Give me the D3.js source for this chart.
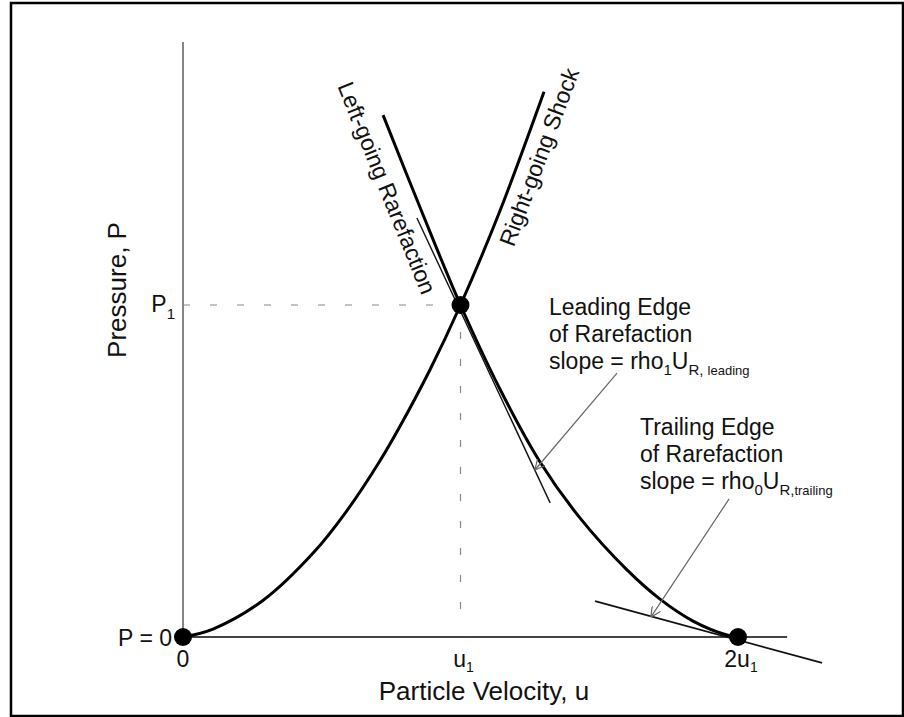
<!DOCTYPE html>
<html>
<head>
<meta charset="utf-8">
<script src="https://cdn.jsdelivr.net/npm/d3@7"></script>
<style>
  body { margin: 0; background: #fff; }
  text { font-family: "Liberation Sans", Arial, Helvetica, sans-serif; fill: #111; }
</style>
</head>
<body>
<div class="chart"></div>
<script>
// values (u in units of u1, P in units of P1)
var shockU = [0, 0.108, 0.288, 0.468, 0.591, 0.710, 0.775, 0.890, 1.0, 1.142, 1.301];
var shockP = [0, 0.024, 0.110, 0.252, 0.381, 0.531, 0.624, 0.805, 1.0, 1.283, 1.642];

var rareU = [0.721, 0.858, 1.0, 1.142, 1.286, 1.431, 1.600, 1.719, 1.838, 1.960, 2.0];
var rareP = [1.572, 1.286, 1.0, 0.747, 0.528, 0.358, 0.202, 0.114, 0.048, 0.006, 0];

var leadTanU = [0.843, 1.323];
var leadTanP = [1.262, 0.404];
var trailTanU = [1.485, 2.303];
var trailTanP = [0.108, -0.078];

var stateU = [0, 1, 2];
var stateP = [0, 1, 0];

var xTickU = [0, 1, 2];
var xTickMain = ["0", "u", "2u"];
var xTickSub = ["", "1", "1"];

var yTickP = [0, 1];
var yTickMain = ["P = 0", "P"];
var yTickSub = ["", "1"];

var svgWidth = 904;
var svgHeight = 717;

var x = d3.scaleLinear().domain([0, 2]).range([183, 738]);
var y = d3.scaleLinear().domain([0, 1]).range([637, 305]);

var svg = d3.select(".chart")
  .append("svg")
  .attr("width", svgWidth)
  .attr("height", svgHeight);

// frame
svg.append("rect")
  .attr("x", 11).attr("y", 3)
  .attr("width", 892).attr("height", 713)
  .attr("fill", "none")
  .attr("stroke", "#000")
  .attr("stroke-width", 2.5);

svg.append("defs").append("marker")
  .attr("id", "arr")
  .attr("viewBox", "0 0 10 10")
  .attr("refX", 10).attr("refY", 5)
  .attr("markerWidth", 10).attr("markerHeight", 10)
  .attr("markerUnits", "userSpaceOnUse")
  .attr("orient", "auto")
  .append("path")
  .attr("d", "M0,0 L10,5 L0,10")
  .attr("fill", "none")
  .attr("stroke", "#666")
  .attr("stroke-width", 1.2);

// axes
svg.append("line")
  .attr("x1", x(0)).attr("x2", x(0))
  .attr("y1", y(0)).attr("y2", y(1.792))
  .attr("stroke", "#666").attr("stroke-width", 1.6);

svg.append("line")
  .attr("x1", x(0)).attr("x2", x(2.177))
  .attr("y1", y(0)).attr("y2", y(0))
  .attr("stroke", "#444").attr("stroke-width", 1.8);

// dashed guides to P1 / u1
svg.append("line")
  .attr("x1", x(0)).attr("x2", x(1))
  .attr("y1", y(1)).attr("y2", y(1))
  .attr("stroke", "#888").attr("stroke-width", 1.2)
  .attr("stroke-dasharray", "7,20");

svg.append("line")
  .attr("x1", x(1)).attr("x2", x(1))
  .attr("y1", y(1)).attr("y2", y(0.045))
  .attr("stroke", "#888").attr("stroke-width", 1.2)
  .attr("stroke-dasharray", "7,20");

var line = d3.line()
  .x(function(d) { return x(d[0]); })
  .y(function(d) { return y(d[1]); });

var curve = d3.line()
  .x(function(d) { return x(d[0]); })
  .y(function(d) { return y(d[1]); })
  .curve(d3.curveCatmullRom.alpha(0.5));

// tangent lines (thin)
svg.append("path")
  .attr("d", line(d3.zip(leadTanU, leadTanP)))
  .attr("fill", "none").attr("stroke", "#111").attr("stroke-width", 1.4);

svg.append("path")
  .attr("d", line(d3.zip(trailTanU, trailTanP)))
  .attr("fill", "none").attr("stroke", "#111").attr("stroke-width", 1.6);

// Hugoniot curves (bold)
svg.append("path")
  .attr("d", curve(d3.zip(shockU, shockP)))
  .attr("fill", "none").attr("stroke", "#000").attr("stroke-width", 3);

svg.append("path")
  .attr("d", curve(d3.zip(rareU, rareP)))
  .attr("fill", "none").attr("stroke", "#000").attr("stroke-width", 3);

// state points
svg.selectAll("circle.state")
  .data(d3.zip(stateU, stateP))
  .enter().append("circle")
  .attr("class", "state")
  .attr("cx", function(d) { return x(d[0]); })
  .attr("cy", function(d) { return y(d[1]); })
  .attr("r", 9)
  .attr("fill", "#000");

// tick labels
xTickU.forEach(function(u, i) {
  var t = svg.append("text")
    .attr("x", x(u) + (i === 0 ? 0 : 3))
    .attr("y", 667)
    .attr("text-anchor", "middle")
    .style("font-size", "23px");
  t.append("tspan").text(xTickMain[i]);
  if (xTickSub[i]) {
    t.append("tspan").attr("dy", 5).style("font-size", "14px").text(xTickSub[i]);
  }
});

yTickP.forEach(function(p, i) {
  var t = svg.append("text")
    .attr("x", i === 0 ? 172 : 175)
    .attr("y", y(p) + (i === 0 ? 9 : 7))
    .attr("text-anchor", "end")
    .style("font-size", "23px");
  t.append("tspan").text(yTickMain[i]);
  if (yTickSub[i]) {
    t.append("tspan").attr("dy", 7).style("font-size", "15px").text(yTickSub[i]);
  }
});

// axis titles
svg.append("text")
  .attr("x", 484).attr("y", 700)
  .attr("text-anchor", "middle")
  .style("font-size", "26px")
  .text("Particle Velocity, u");

svg.append("text")
  .attr("transform", "translate(126,290) rotate(-90)")
  .attr("text-anchor", "middle")
  .style("font-size", "26px")
  .text("Pressure, P");

// curve labels
svg.append("text")
  .attr("transform", "translate(387,188) rotate(68)")
  .attr("text-anchor", "middle")
  .attr("dy", "0.35em")
  .style("font-size", "23px")
  .text("Left-going Rarefaction");

svg.append("text")
  .attr("transform", "translate(539,157) rotate(-69.5)")
  .attr("text-anchor", "middle")
  .attr("dy", "0.35em")
  .style("font-size", "23px")
  .text("Right-going Shock");

// annotations
var leadNote = ["Leading Edge", "of Rarefaction"];
var trailNote = ["Trailing Edge", "of Rarefaction"];

function note(x0, y0, lines, sub1, sub2, sub2sep) {
  var g = svg.append("g").style("font-size", "23px");
  lines.forEach(function(s, i) {
    g.append("text").attr("x", x0).attr("y", y0 + i * 27).text(s);
  });
  var t = g.append("text").attr("x", x0).attr("y", y0 + 54);
  t.append("tspan").text("slope = rho");
  t.append("tspan").attr("dy", 6).style("font-size", "15px").text(sub1);
  t.append("tspan").attr("dy", -6).text("U");
  t.append("tspan").attr("dy", 6).style("font-size", "15px").text("R" + sub2sep);
  t.append("tspan").style("font-size", "13px").text(sub2);
}
note(549, 315, leadNote, "1", "leading", ", ");
note(640, 435, trailNote, "0", "trailing", ",");

// pointer arrows
var leadArrowU = [1.564, 1.268];
var leadArrowP = [0.795, 0.503];
var trailArrowU = [1.968, 1.686];
var trailArrowP = [0.416, 0.060];

[[leadArrowU, leadArrowP], [trailArrowU, trailArrowP]].forEach(function(a) {
  svg.append("path")
    .attr("d", line(d3.zip(a[0], a[1])))
    .attr("fill", "none")
    .attr("stroke", "#666")
    .attr("stroke-width", 1.2)
    .attr("marker-end", "url(#arr)");
});
</script>
</body>
</html>
